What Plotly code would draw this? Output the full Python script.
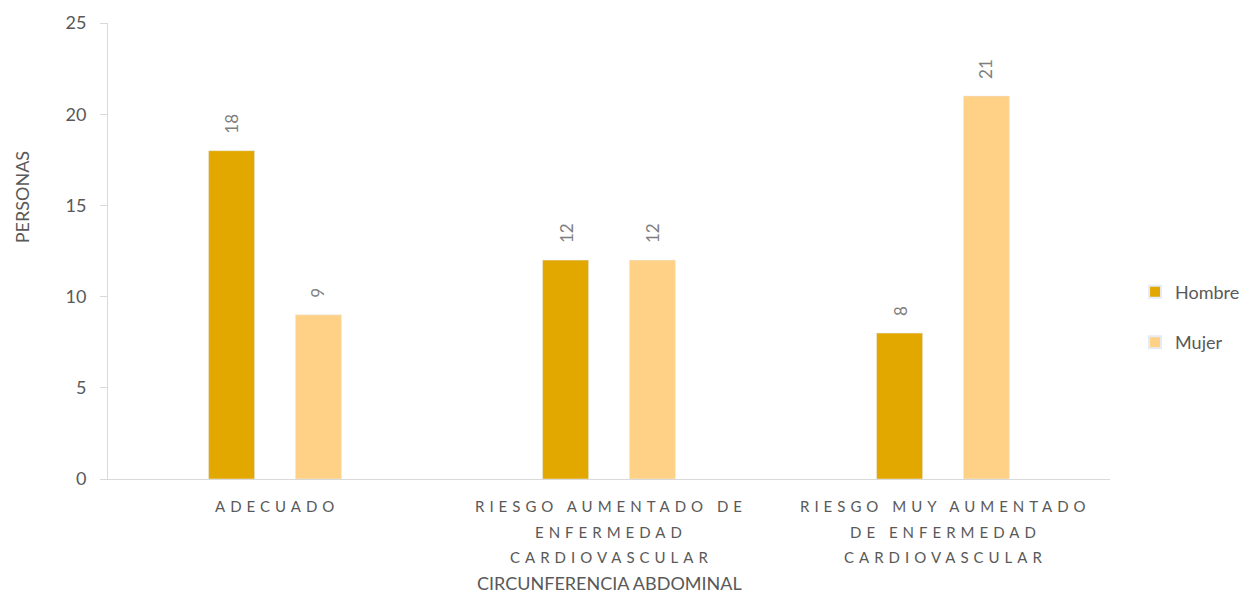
import plotly.graph_objects as go

category_lines = [["ADECUADO"],
                  ["RIESGO AUMENTADO DE", "ENFERMEDAD", "CARDIOVASCULAR"],
                  ["RIESGO MUY AUMENTADO", "DE ENFERMEDAD", "CARDIOVASCULAR"]]
categories = [" ".join(l) for l in category_lines]
hombre = [18, 12, 8]
mujer = [9, 12, 21]
y_ticks = [0, 5, 10, 15, 20, 25]

FONT = "Lato"
GRAY = "#595959"
LABEL_GRAY = "#7f7f7f"

fig = go.Figure()
fig.add_trace(go.Bar(name="Hombre", x=categories, y=hombre, marker_color="#E3A800",
                     legendgroup="h"))
fig.add_trace(go.Bar(name="Mujer", x=categories, y=mujer, marker_color="#FFD187",
                     legendgroup="m"))

# value labels above bars (rotated)
for vals, shift in ((hombre, -43), (mujer, 43)):
    for c, v in zip(categories, vals):
        fig.add_annotation(x=c, y=v, xref="x", yref="y", text=str(v), showarrow=False,
                           textangle=-90, xshift=shift, yshift=15, yanchor="bottom",
                           font=dict(family=FONT, size=17, color=LABEL_GRAY))

# category labels with letter spacing, one line each
for c, lines in zip(categories, category_lines):
    for j, line in enumerate(lines):
        fig.add_annotation(x=c, y=0, xref="x", yref="paper",
                           text=f'<span style="letter-spacing:5px">{line}</span>',
                           showarrow=False, yanchor="middle", xshift=2, yshift=-(27 + 25.5 * j),
                           font=dict(family=FONT, size=15, color=GRAY))

fig.add_annotation(text="CIRCUNFERENCIA ABDOMINAL", xref="paper", yref="paper",
                   x=0.5, y=-0.229, xanchor="center", yanchor="middle", showarrow=False,
                   font=dict(family=FONT, size=18, color=GRAY))
fig.add_annotation(text="PERSONAS", xref="paper", yref="paper", x=-0.0858, y=0.618,
                   xanchor="center", yanchor="middle",
                   textangle=-90, showarrow=False,
                   font=dict(family=FONT, size=18, color=GRAY))

fig.update_layout(
    width=1246, height=589,
    margin=dict(l=100, r=144, t=15, b=118, autoexpand=False),
    paper_bgcolor="white", plot_bgcolor="white",
    barmode="group", bargap=0.48, bargroupgap=0.47,
    font=dict(family=FONT, color=GRAY),
    legend=dict(x=1.025, y=0.355, yanchor="middle", xanchor="left",
                font=dict(family=FONT, size=18, color=GRAY),
                tracegroupgap=24, itemsizing="constant"),
    showlegend=True,
)
fig.update_xaxes(showline=True, linecolor="#d9d9d9", linewidth=1, ticks="",
                 showticklabels=False)
fig.update_yaxes(range=[0, 25], tickvals=y_ticks, showgrid=False, zeroline=False,
                 showline=True, linecolor="#d9d9d9", linewidth=1,
                 ticks="outside", ticklen=7, tickcolor="#d9d9d9",
                 ticklabelstandoff=10,
                 tickfont=dict(family=FONT, size=18, color=GRAY))

fig.write_html("out.html")
